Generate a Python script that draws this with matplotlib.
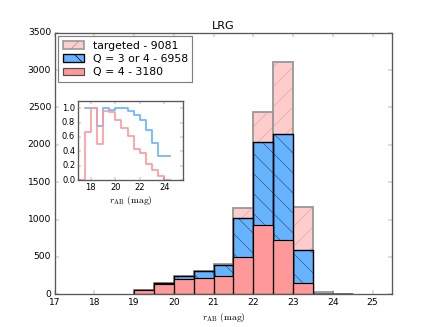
import matplotlib
matplotlib.use('Agg')
import matplotlib.pyplot as plt
from matplotlib.patches import Patch
import numpy as np

plt.style.use('classic')
plt.rcParams['mathtext.fontset'] = 'cm'
plt.rcParams['hatch.linewidth'] = 0.8

# magnitude bins (left edges, width 0.5)
bin_lo = [19.0, 19.5, 20.0, 20.5, 21.0, 21.5, 22.0, 22.5, 23.0, 23.5, 24.0]
n_targeted = [63, 152, 241, 310, 406, 1150, 2445, 3110, 1165, 31, 8]
n_q34 = [63, 149, 241, 310, 390, 1022, 2033, 2148, 589, 10, 3]
n_q4 = [60, 144, 200, 224, 250, 502, 921, 732, 145, 2, 0]

# success fractions shown in the inset
frac_lo = [17.0, 17.5, 18.0, 18.5, 19.0, 19.5, 20.0, 20.5, 21.0, 21.5, 22.0, 22.5, 23.0, 23.5, 24.0]
frac_q34 = [np.nan, 1.0, 1.0, 0.75, 1.0, 0.98, 1.0, 1.0, 0.96, 0.90, 0.83, 0.70, 0.51, 0.33, 0.34]
frac_q4 = [0.0, 0.67, 1.0, 0.5, 0.96, 0.95, 0.83, 0.72, 0.62, 0.43, 0.37, 0.23, 0.14, 0.06, 0.0]

c_pink = '#ffcccc'
c_blue = '#66b3ff'
c_red = '#ff9999'
w = 0.5

fig = plt.figure(figsize=(436 / 60, 327 / 60), dpi=60, facecolor='white')
ax = fig.add_axes([0.125, 0.1, 0.775, 0.8])

def layered(x, h, face, edge, lw, hatch=None, hcol=None):
    ax.bar(x, h, width=w, align='edge', color=face, linewidth=0)
    if hatch:
        ax.bar(x, h, width=w, align='edge', facecolor='none', edgecolor=hcol,
               linewidth=0, hatch=hatch)
    ax.bar(x, h, width=w, align='edge', facecolor='none', edgecolor=edge, linewidth=lw)

layered(bin_lo, n_targeted, c_pink, '#999999', 2.2, '/', '#d9a9a9')
layered(bin_lo, n_q34, c_blue, 'black', 1.7, '\\', '#335577')
layered(bin_lo, n_q4, c_red, 'black', 1.4)

ax.set_xlim(17, 25.5)
ax.set_ylim(0, 3500)
ax.set_xticks(range(17, 26))
ax.set_yticks(range(0, 3501, 500))
ax.tick_params(labelsize=11, color='0.35', length=5)
for s in ax.spines.values():
    s.set_color('0.35')
    s.set_linewidth(1.6)
ax.set_title('LRG', fontsize=13.5)
ax.set_xlabel(r'$r_{\rm AB}\ {\rm (mag)}$', fontsize=11.5)

handles = [Patch(facecolor=c_pink, edgecolor='#999999', hatch='/', linewidth=2.0),
           Patch(facecolor=c_blue, edgecolor='black', hatch='\\', linewidth=1.6),
           Patch(facecolor=c_red, edgecolor='0.3', linewidth=1.4)]
labels = ['targeted - %d' % sum(n_targeted),
          'Q = 3 or 4 - %d' % sum(n_q34),
          'Q = 4 - %d' % sum(n_q4)]
leg = ax.legend(handles, labels, loc='upper left', fontsize=13,
                borderaxespad=0.35, handlelength=2.0, handletextpad=0.8,
                labelspacing=0.3, borderpad=0.4)
leg.get_frame().set_edgecolor('0.5')
leg.get_frame().set_linewidth(1.4)

# inset: fraction with redshift
ax2 = fig.add_axes([0.180, 0.4495, 0.239, 0.2415])
edges = frac_lo + [frac_lo[-1] + w]
ax2.step(edges, frac_q34 + [frac_q34[-1]], where='post', color=c_blue, lw=2.0)
ax2.step(edges, frac_q4 + [frac_q4[-1]], where='post', color=c_red, lw=2.0)
ax2.set_xlim(17, 25.5)
ax2.set_ylim(0, 1.1)
ax2.set_xticks([18, 20, 22, 24])
ax2.set_yticks([0.0, 0.2, 0.4, 0.6, 0.8, 1.0])
ax2.tick_params(labelsize=10, color='0.35', length=4)
for s in ax2.spines.values():
    s.set_color('0.35')
    s.set_linewidth(1.6)
ax2.set_xlabel(r'$r_{\rm AB}\ {\rm (mag)}$', fontsize=11.5, labelpad=2)

fig.savefig('out.png', dpi=60, facecolor='white')
